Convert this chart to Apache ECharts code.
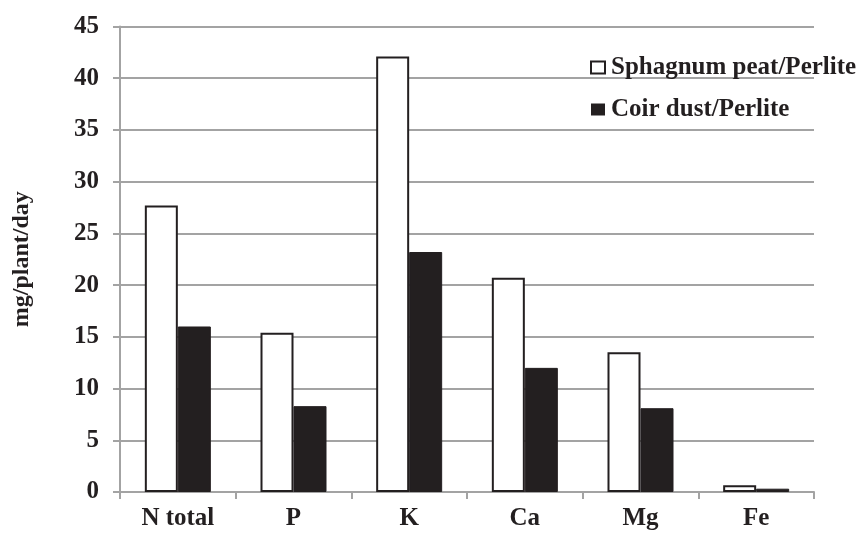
<!DOCTYPE html>
<html>
<head>
<meta charset="utf-8">
<script src="https://cdn.jsdelivr.net/npm/echarts@6/dist/echarts.min.js"></script>
<style>html,body{margin:0;padding:0;background:#fff;}#c{width:862px;height:534px;}</style>
</head>
<body>
<div id="c"></div>
<script>
const categories = ['N total', 'P', 'K', 'Ca', 'Mg', 'Fe'];
const peatValues = [27.7, 15.4, 42.1, 20.7, 13.5, 0.65];
const coirValues = [16.0, 8.3, 23.2, 12.0, 8.1, 0.32];
const seriesNames = ['Sphagnum peat/Perlite', 'Coir dust/Perlite'];
const yAxisTitle = 'mg/plant/day';

const font = 'Liberation Serif, Times New Roman, serif';
const gray = '#a3a3a3';
const dark = '#231f20';

const chart = echarts.init(document.getElementById('c'), null, {renderer: 'canvas'});
chart.setOption({
  animation: false,
  backgroundColor: '#fff',
  grid: {left: 120, right: 48, top: 26.5, bottom: 42, containLabel: false},
  legend: {
    orient: 'vertical',
    left: 585,
    top: 50,
    itemWidth: 14,
    itemHeight: 12,
    itemGap: 17,
    icon: 'rect',
    textStyle: {fontFamily: font, fontWeight: 'bold', fontSize: 25, color: dark, padding: [0, 0, 0, 1]},
    data: [
      {name: seriesNames[0], itemStyle: {color: '#fff', borderColor: dark, borderWidth: 2}},
      {name: seriesNames[1], itemStyle: {color: dark, borderColor: dark, borderWidth: 0}}
    ]
  },
  xAxis: {
    type: 'category',
    data: categories,
    axisLine: {lineStyle: {color: gray, width: 2}},
    axisTick: {show: true, length: 7, lineStyle: {color: gray, width: 2}},
    axisLabel: {fontFamily: font, fontWeight: 'bold', fontSize: 25, color: dark, margin: 14}
  },
  yAxis: {
    type: 'value',
    min: 0,
    max: 45,
    interval: 5,
    name: yAxisTitle,
    nameLocation: 'middle',
    nameGap: 86,
    nameTextStyle: {fontFamily: font, fontWeight: 'bold', fontSize: 24, color: dark},
    axisLine: {show: true, lineStyle: {color: gray, width: 2}},
    axisTick: {show: true, length: 7, lineStyle: {color: gray, width: 2}},
    splitLine: {lineStyle: {color: gray, width: 2}},
    axisLabel: {fontFamily: font, fontWeight: 'bold', fontSize: 25, color: dark, margin: 21}
  },
  series: [
    {
      name: seriesNames[0],
      type: 'bar',
      data: peatValues,
      barWidth: 33,
      barGap: '0%',
      itemStyle: {color: '#fff', borderColor: dark, borderWidth: 2}
    },
    {
      name: seriesNames[1],
      type: 'bar',
      data: coirValues,
      barWidth: 33,
      barGap: '0%',
      itemStyle: {color: dark, borderColor: dark, borderWidth: 1}
    }
  ]
});
</script>
</body>
</html>
